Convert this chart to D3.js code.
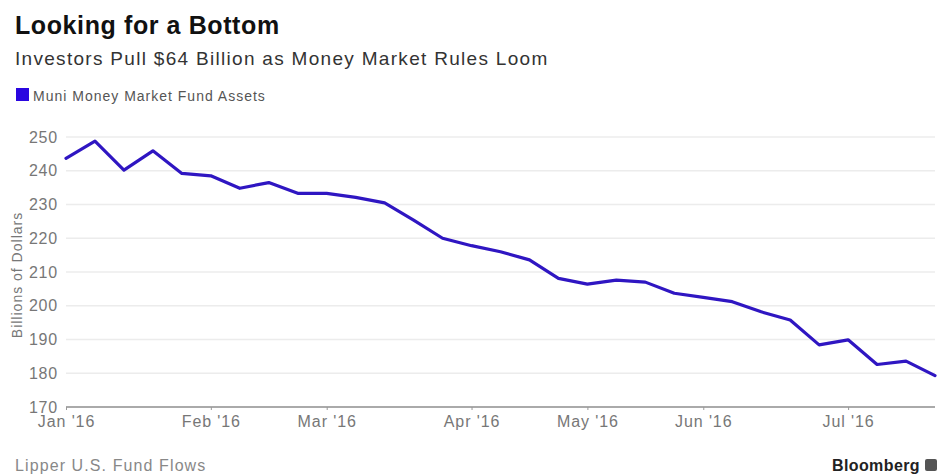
<!DOCTYPE html>
<html>
<head>
<meta charset="utf-8">
<script src="https://cdn.jsdelivr.net/npm/d3@7"></script>
<style>
  html, body { margin: 0; padding: 0; background: #fff; }
  svg { display: block; font-family: "Liberation Sans", Arial, Helvetica, sans-serif; }
</style>
</head>
<body>
<svg id="chart" width="941" height="475"></svg>
<script>
// Weekly muni money market fund assets, billions of dollars (Jan–Jul 2016)
const weeks = d3.range(31);
const assets = [
  243.7, 248.8, 240.2, 245.9, 239.2, 238.5, 234.8, 236.5, 233.3, 233.3,
  232.1, 230.5, 225.4, 220.0, 217.8, 216.0, 213.6, 208.1, 206.4, 207.6,
  207.0, 203.7, 202.5, 201.2, 198.2, 195.8, 188.4, 189.9, 182.6, 183.6,
  179.3
];
// Month labels sit on the first week of each month
const monthWeeks = [0, 5, 9, 14, 18, 22, 27];
const monthLabels = ["Jan '16", "Feb '16", "Mar '16", "Apr '16", "May '16", "Jun '16", "Jul '16"];
const yTicks = [170, 180, 190, 200, 210, 220, 230, 240, 250];

const title = "Looking for a Bottom";
const subtitle = "Investors Pull $64 Billion as Money Market Rules Loom";
const seriesName = "Muni Money Market Fund Assets";
const yTitle = "Billions of Dollars";
const source = "Lipper U.S. Fund Flows";

const lineColor = "#2f16c2";
const svg = d3.select("#chart");

const x = d3.scaleLinear().domain([0, 30]).range([66, 935]);
const y = d3.scaleLinear().domain([170, 250]).range([407, 137]);

// Titles
svg.append("text").attr("x", 15).attr("y", 34)
  .attr("font-size", 25).attr("font-weight", "bold").attr("fill", "#111")
  .attr("letter-spacing", 0.6)
  .text(title);
svg.append("text").attr("x", 15).attr("y", 65)
  .attr("font-size", 19).attr("fill", "#333")
  .attr("letter-spacing", 1.3)
  .text(subtitle);

// Legend
svg.append("rect").attr("x", 16).attr("y", 88).attr("width", 13).attr("height", 13)
  .attr("fill", "#2a06e0");
svg.append("text").attr("x", 33).attr("y", 101)
  .attr("font-size", 14).attr("fill", "#555")
  .attr("letter-spacing", 1)
  .text(seriesName);

// Horizontal grid
svg.append("g")
  .selectAll("line")
  .data(yTicks.filter(d => d !== 170))
  .join("line")
  .attr("x1", 66).attr("x2", 935)
  .attr("y1", d => y(d)).attr("y2", d => y(d))
  .attr("stroke", "#ececec").attr("stroke-width", 1.5);

// Y axis labels
const yAxis = svg.append("g").attr("transform", "translate(60,0)")
  .call(d3.axisLeft(y).tickValues(yTicks).tickSize(0).tickPadding(2));
yAxis.select(".domain").remove();
yAxis.selectAll("text")
  .attr("font-size", 16).attr("fill", "#777").attr("letter-spacing", 0.8)
  .attr("font-family", "Liberation Sans, Arial, sans-serif");

// Y axis title
svg.append("text")
  .attr("transform", "translate(22,275) rotate(-90)")
  .attr("text-anchor", "middle")
  .attr("font-size", 14).attr("fill", "#777").attr("letter-spacing", 1)
  .text(yTitle);

// X axis
const xAxis = svg.append("g").attr("transform", "translate(0,407)")
  .call(d3.axisBottom(x)
    .tickValues(monthWeeks)
    .tickFormat((d, i) => monthLabels[i])
    .tickSize(3).tickPadding(6));
xAxis.select(".domain").attr("stroke", "#aaa").attr("stroke-width", 2)
  .attr("d", `M${x(0)},0H${x(30)}`);
xAxis.selectAll(".tick line").attr("stroke", "#999");
xAxis.selectAll("text")
  .attr("font-size", 16).attr("fill", "#777").attr("letter-spacing", 0.9)
  .attr("font-family", "Liberation Sans, Arial, sans-serif");

// Series line
const line = d3.line()
  .x((d, i) => x(weeks[i]))
  .y(d => y(d));
svg.append("path")
  .datum(assets)
  .attr("d", line)
  .attr("fill", "none")
  .attr("stroke", lineColor)
  .attr("stroke-width", 3.2)
  .attr("stroke-linejoin", "round")
  .attr("stroke-linecap", "round");

// Footer
svg.append("text").attr("x", 15).attr("y", 471)
  .attr("font-size", 16).attr("fill", "#888").attr("letter-spacing", 1.1)
  .text(source);
svg.append("text").attr("x", 920).attr("y", 471)
  .attr("text-anchor", "end")
  .attr("font-size", 16).attr("font-weight", "bold").attr("fill", "#222")
  .attr("letter-spacing", 0.4)
  .text("Bloomberg");
svg.append("rect").attr("x", 925).attr("y", 459).attr("width", 12).attr("height", 12)
  .attr("rx", 2).attr("fill", "#555");
</script>
</body>
</html>
